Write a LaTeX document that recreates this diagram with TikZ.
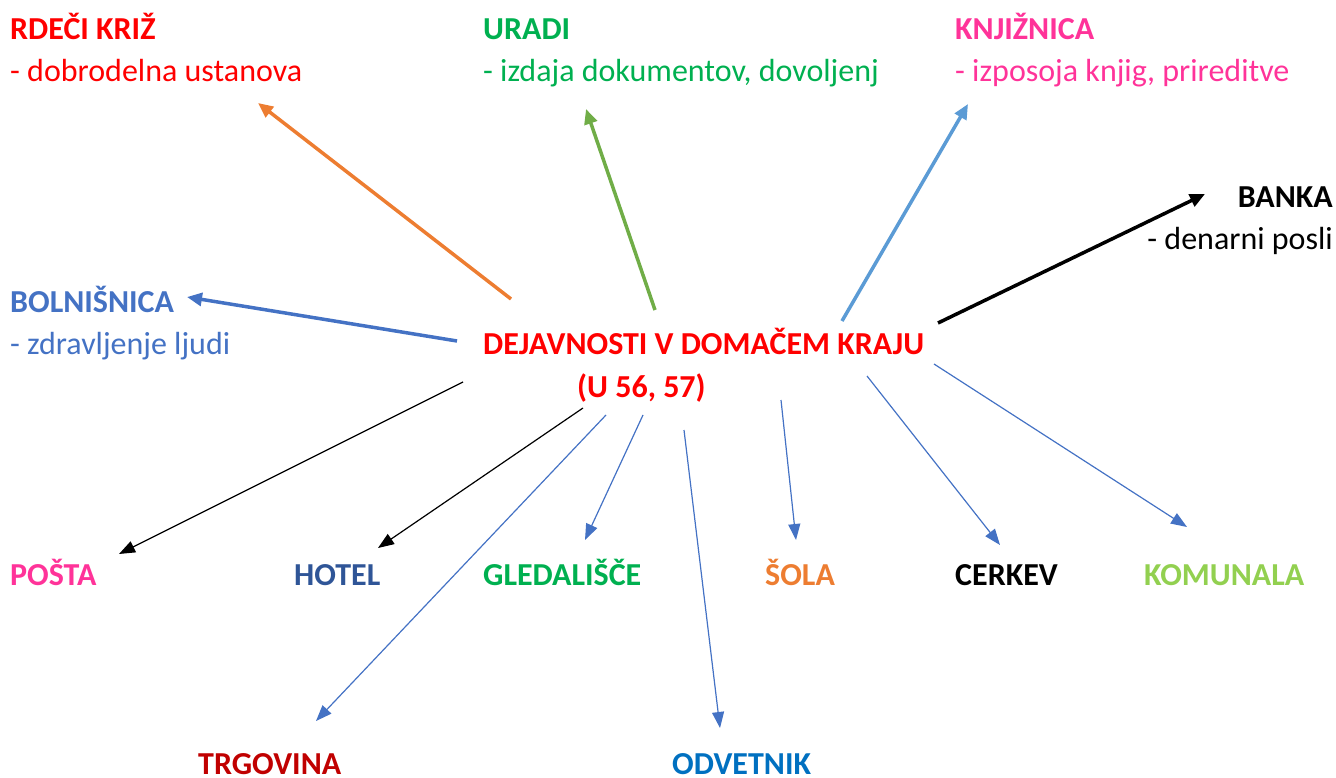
\documentclass[tikz,border=0pt]{standalone}
\usepackage{fontspec}
\setmainfont{Carlito}
\usetikzlibrary{arrows.meta}

\definecolor{rdeca}{HTML}{FF0000}
\definecolor{zelena}{HTML}{00B050}
\definecolor{roza}{HTML}{FF3399}
\definecolor{modra}{HTML}{4472C4}
\definecolor{temnomodra}{HTML}{2F5597}
\definecolor{oranzna}{HTML}{ED7D31}
\definecolor{svetlozelena}{HTML}{92D050}
\definecolor{temnordeca}{HTML}{C00000}
\definecolor{odvmodra}{HTML}{0070C0}
\definecolor{trava}{HTML}{70AD47}
\definecolor{nebo}{HTML}{5B9BD5}

\begin{document}
\begin{tikzpicture}[x=1pt, y=-1pt,
    naslov/.style={font=\fontsize{32}{38}\selectfont\bfseries, inner sep=0pt, anchor=base west},
    opis/.style={font=\fontsize{32}{38}\selectfont, inner sep=0pt, anchor=base west},
    debela/.style={line width=3.5pt, -{Triangle[length=15pt,width=13pt]}},
    tanka/.style={line width=1.2pt, -{Triangle[length=16pt,width=12pt]}}]

  \useasboundingbox (0,0) rectangle (1336,778);

  % sredina
  \node[naslov, text=rdeca] (dej) at (483,354) {DEJAVNOSTI V DOMAČEM KRAJU};
  \node[naslov, text=rdeca] (dej2) at (577,397) {(U 56, 57)};

  % zgoraj
  \node[naslov, text=rdeca] (rdeci) at (10,40) {RDEČI KRIŽ};
  \node[opis, text=rdeca] (rdeci-opis) at (10,82) {- dobrodelna ustanova};
  \node[naslov, text=zelena] (uradi) at (483,40) {URADI};
  \node[opis, text=zelena] (uradi-opis) at (483,82) {- izdaja dokumentov, dovoljenj};
  \node[naslov, text=roza] (knjiz) at (955,40) {KNJIŽNICA};
  \node[opis, text=roza] (knjiz-opis) at (955,82) {- izposoja knjig, prireditve};
  \node[naslov, text=black, anchor=base east] (banka) at (1333,208) {BANKA};
  \node[opis, text=black, anchor=base east] (banka-opis) at (1333,250) {- denarni posli};
  \node[naslov, text=modra] (bolnis) at (10,312) {BOLNIŠNICA};
  \node[opis, text=modra] (bolnis-opis) at (10,354) {- zdravljenje ljudi};

  % spodaj
  \node[naslov, text=roza] (posta) at (10,585) {POŠTA};
  \node[naslov, text=temnomodra] (hotel) at (294,585) {HOTEL};
  \node[naslov, text=zelena] (gled) at (483,585) {GLEDALIŠČE};
  \node[naslov, text=oranzna] (sola) at (765,585) {ŠOLA};
  \node[naslov, text=black] (cerkev) at (955,585) {CERKEV};
  \node[naslov, text=svetlozelena] (komun) at (1144,585) {KOMUNALA};
  \node[naslov, text=temnordeca] (trgov) at (198,774) {TRGOVINA};
  \node[naslov, text=odvmodra] (odvet) at (672,774) {ODVETNIK};

  % konci puscic
  \coordinate (z1) at (511,299);  \coordinate (k1) at (258,103);
  \coordinate (z2) at (655,310);  \coordinate (k2) at (586,109);
  \coordinate (z3) at (842,321);  \coordinate (k3) at (968,104);
  \coordinate (z4) at (938,323);  \coordinate (k4) at (1205,194);
  \coordinate (z5) at (457,341);  \coordinate (k5) at (187,297);
  \coordinate (z6) at (463,382);  \coordinate (k6) at (119,554);
  \coordinate (z7) at (583,408);  \coordinate (k7) at (378,548);
  \coordinate (z8) at (606,415);  \coordinate (k8) at (316,721);
  \coordinate (z9) at (643,415);  \coordinate (k9) at (585,540);
  \coordinate (z10) at (684,430); \coordinate (k10) at (720,728);
  \coordinate (z11) at (781,400); \coordinate (k11) at (796,540);
  \coordinate (z12) at (867,376); \coordinate (k12) at (1000,545);
  \coordinate (z13) at (934,364); \coordinate (k13) at (1187,527);

  \draw[debela, oranzna] (z1) -- (k1);
  \draw[debela, trava] (z2) -- (k2);
  \draw[debela, nebo] (z3) -- (k3);
  \draw[debela, black] (z4) -- (k4);
  \draw[debela, modra] (z5) -- (k5);

  \draw[tanka, black] (z6) -- (k6);
  \draw[tanka, black] (z7) -- (k7);
  \draw[tanka, modra] (z8) -- (k8);
  \draw[tanka, modra] (z9) -- (k9);
  \draw[tanka, modra] (z10) -- (k10);
  \draw[tanka, modra] (z11) -- (k11);
  \draw[tanka, modra] (z12) -- (k12);
  \draw[tanka, modra] (z13) -- (k13);

\end{tikzpicture}
\end{document}
